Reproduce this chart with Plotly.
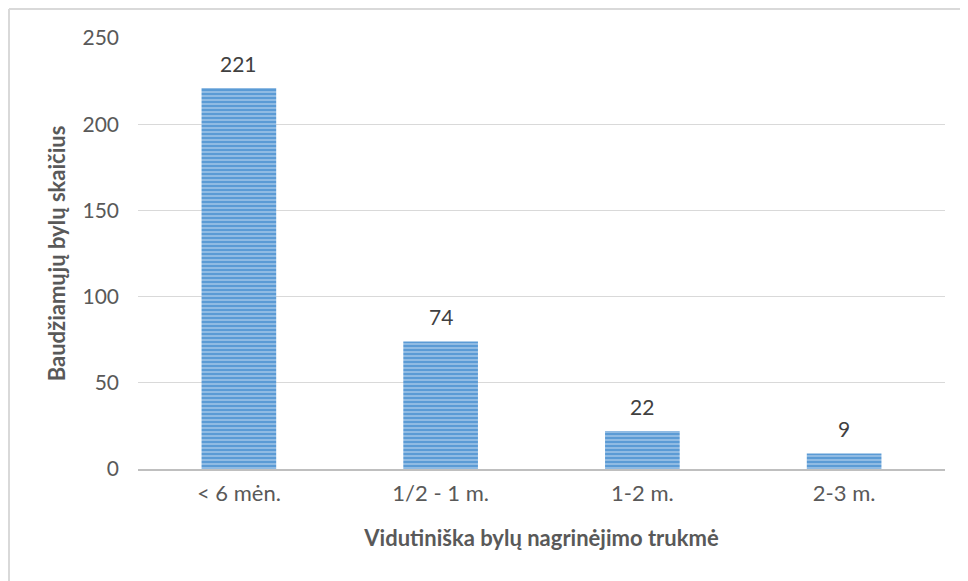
import plotly.graph_objects as go

categories = ["< 6 mėn.", "1/2 - 1 m.", "1-2 m.", "2-3 m."]
values = [221, 74, 22, 9]
y_ticks = [0, 50, 100, 150, 200, 250]

x_title = "Vidutiniška bylų nagrinėjimo trukmė"
y_title = "Baudžiamųjų bylų skaičius"

FONT = "Lato"
GRAY = "#595959"

fig = go.Figure()
fig.add_trace(go.Bar(
    x=categories,
    y=values,
    marker=dict(
        color="#5B9BD5",
        line=dict(width=0),
        pattern=dict(shape="-", fgcolor="#D2E4F5", bgcolor="#5B9BD5",
                     size=4, solidity=0.45, fillmode="overlay"),
    ),
    width=0.37,
    hoverinfo="skip",
))

for c, v in zip(categories, values):
    fig.add_annotation(x=c, y=v, text=str(v), showarrow=False,
                       yanchor="middle", yshift=25,
                       font=dict(family=FONT, size=21, color="#404040"))

# page body has an 8px margin, so the figure starts at (8, 8)
OFF = 8
L, R, T, B = 138 - OFF, 23, 38 - OFF, 112
W, H = 968 - OFF, 581 - OFF
pw, ph = W - L - R, H - T - B

fig.update_layout(
    width=W, height=H,
    margin=dict(l=L, r=R, t=T, b=B, pad=0),
    paper_bgcolor="white",
    plot_bgcolor="white",
    showlegend=False,
    font=dict(family=FONT, color=GRAY),
    xaxis=dict(
        automargin=False,
        showgrid=False,
        showline=True, linecolor="#BFBFBF", linewidth=2,
        ticks="", tickfont=dict(family=FONT, size=22, color=GRAY),
        ticklabelstandoff=4,
        title=dict(text=x_title, font=dict(family=FONT, size=22, color=GRAY,
                                           weight="bold"),
                   standoff=25),
    ),
    yaxis=dict(
        automargin=False,
        range=[0, 250],
        tickvals=y_ticks,
        showgrid=True, gridcolor="#D9D9D9", gridwidth=1,
        zeroline=False, showline=False,
        ticks="", tickfont=dict(family=FONT, size=21, color=GRAY),
        ticklabelstandoff=18,
        title=dict(text=y_title, font=dict(family=FONT, size=22, color=GRAY,
                                           weight="bold"),
                   standoff=10),
    ),
    shapes=[
        dict(type="line", xref="paper", yref="paper",
             x0=(1 - L) / pw, x1=(W + 5 - L) / pw,
             y0=(H - B - 1) / ph, y1=(H - B - 1) / ph,
             line=dict(color="#D9D9D9", width=2)),
        dict(type="line", xref="paper", yref="paper",
             x0=(1 - L) / pw, x1=(1 - L) / pw,
             y0=(H - B - 1) / ph, y1=(H - B - H - 5) / ph,
             line=dict(color="#D9D9D9", width=2)),
    ],
)

fig.write_html("out.html")
